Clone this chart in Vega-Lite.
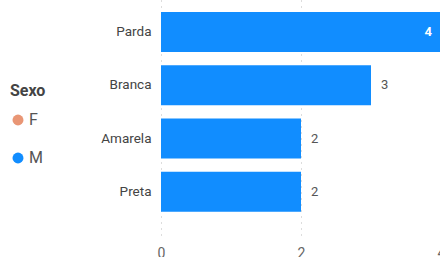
{
  "$schema": "https://vega.github.io/schema/vega-lite/v6.json",
  "autosize": {"type": "none"},
  "padding": {"left": 161, "top": 0, "right": 0, "bottom": 22},
  "width": 280,
  "height": 235,
  "background": "white",
  "config": {"view": {"stroke": null}, "font": "Roboto"},
  "data": {"values": [
    {"raca": "Parda", "sexo": "M", "n": 4},
    {"raca": "Branca", "sexo": "M", "n": 3},
    {"raca": "Amarela", "sexo": "M", "n": 2},
    {"raca": "Preta", "sexo": "M", "n": 2}
  ]},
  "encoding": {
    "y": {"field": "raca", "type": "nominal", "sort": ["Parda", "Branca", "Amarela", "Preta"],
      "scale": {"paddingInner": 0.25, "paddingOuter": 0.33, "align": 0.34},
      "axis": {"title": null, "domain": false, "ticks": false, "labelPadding": 10, "labelFontSize": 13.5, "labelColor": "#444", "labelFont": "Roboto"}},
    "x": {"field": "n", "type": "quantitative", "scale": {"domain": [0, 4], "nice": false},
      "axis": {"title": null, "values": [0, 2, 4], "domain": false, "ticks": false, "labelPadding": 11, "labelFontSize": 14, "labelColor": "#666", "grid": true, "gridDash": [1, 5], "gridColor": "#bbb", "labelFlush": false}}
  },
  "layer": [
    {"mark": {"type": "bar"},
     "encoding": {"color": {"field": "sexo", "type": "nominal",
       "scale": {"domain": ["F", "M"], "range": ["#E99675", "#118DFF"]},
       "legend": {"orient": "none", "legendX": -151, "legendY": 83, "title": "Sexo", "titleFontSize": 16, "titleFont": "Roboto", "titleColor": "#444", "titleFontWeight": "bold", "titlePadding": 13, "labelFontSize": 16, "labelColor": "#555", "symbolType": "circle", "symbolSize": 120, "rowPadding": 22, "labelOffset": 3}}}},
    {"transform": [{"filter": "datum.n >= 4"}],
     "mark": {"type": "text", "align": "right", "dx": -9, "fontSize": 13, "fontWeight": "bold", "color": "white"},
     "encoding": {"text": {"field": "n"}}},
    {"transform": [{"filter": "datum.n < 4"}],
     "mark": {"type": "text", "align": "left", "dx": 10, "fontSize": 13, "color": "#555"},
     "encoding": {"text": {"field": "n"}}}
  ]
}
